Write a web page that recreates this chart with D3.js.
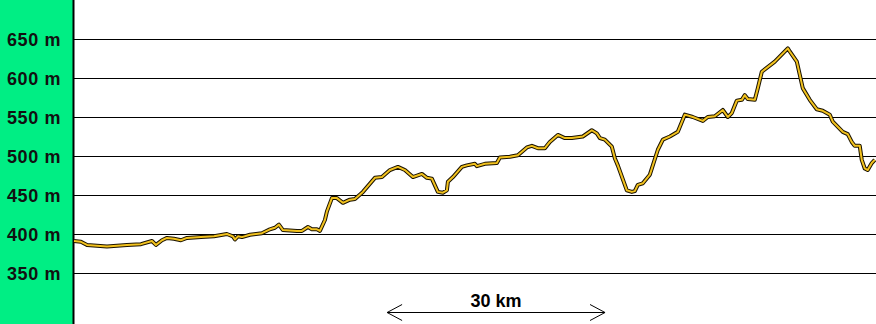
<!DOCTYPE html>
<html>
<head>
<meta charset="utf-8">
<script src="https://cdnjs.cloudflare.com/ajax/libs/d3/7.8.5/d3.min.js"></script>
<style>
  html, body { margin: 0; padding: 0; background: #fff; }
  svg { display: block; }
</style>
</head>
<body>
<div id="main"></div>
<script>
// distance along the route (km) and elevation (m)
var distKm = [0, 0.96, 1.79, 4.54, 5.92, 7.29, 9.22, 10.73, 11.28, 12.11, 12.8, 13.76, 14.72, 15.55, 17.48, 19.27,
  21.05, 21.88, 22.16, 22.57, 23.12, 24.22, 25.87, 26.97, 27.66, 28.21, 28.76, 30.69, 31.38, 32.2, 32.75, 33.44,
  33.85, 34.54, 34.82, 35.5, 36.19, 37.02, 37.98, 38.67, 39.77, 41.42, 42.39, 43.49, 44.59, 45.55, 46.65, 47.89,
  48.58, 49.26, 50.09, 50.78, 51.33, 51.47, 52.16, 53.39, 54.08, 55.18, 55.46, 56.56, 58.21, 58.62, 60.0, 61.1,
  62.34, 63.03, 63.85, 64.82, 65.5, 66.61, 67.57, 68.53, 70.04, 71.28, 71.97, 72.39, 73.07, 74.04, 74.45, 74.86,
  76.1, 76.79, 77.2, 77.61, 78.3, 79.27, 80.37, 81.06, 82.02, 83.12, 84.08, 85.18, 86.56, 87.24, 88.21, 89.31,
  90.0, 90.55, 91.24, 91.93, 92.34, 92.75, 93.72, 94.13, 94.68, 96.47, 98.26, 98.53, 99.5, 100.32, 101.28, 102.24,
  103.07, 104.03, 104.45, 105.82, 106.51, 107.06, 107.47, 108.16, 108.44, 108.85, 109.26, 109.82, 110.23];
var elevM = [391, 390, 386, 384, 385, 386, 387, 391, 386, 392, 395, 394, 392, 395, 396, 397,
  400, 397, 393, 397, 396, 399, 401, 406, 408, 412, 405, 404, 404, 409, 406, 406,
  404, 418, 429, 446, 446, 440, 444, 445, 454, 472, 473, 482, 486, 482, 473, 477,
  472, 471, 454, 453, 456, 467, 473, 486, 488, 490, 487, 490, 491, 498, 499, 501,
  511, 513, 510, 510, 518, 527, 523, 523, 525, 533, 529, 523, 521, 512, 497, 488,
  456, 454, 455, 463, 465, 476, 508, 521, 525, 531, 553, 550, 545, 550, 551, 559,
  550, 555, 571, 572, 578, 573, 572, 587, 608, 621, 638, 634, 621, 587, 572, 560,
  558, 553, 544, 531, 528, 518, 513, 513, 495, 484, 482, 491, 495];
var gridM = [650, 600, 550, 500, 450, 400, 350];
var scaleKm = 30, scaleStartKm = 43.1;

var W = 876, H = 324, panelW = 73;
var svg = d3.select("#main").append("svg").attr("width", W).attr("height", H);

var x = d3.scaleLinear().domain([0, 110.4]).range([panelW + 1, W]);
var y = d3.scaleLinear().domain([350, 650]).range([273, 39]);

// green label panel
svg.append("rect").attr("x", 0).attr("y", 0).attr("width", panelW).attr("height", H).attr("fill", "#00ee84");
svg.append("line").attr("x1", panelW + 0.5).attr("x2", panelW + 0.5).attr("y1", 0).attr("y2", H)
  .attr("stroke", "#000").attr("stroke-width", 2);

// horizontal grid lines
svg.append("g").selectAll("line").data(gridM).enter().append("line")
  .attr("x1", panelW + 1).attr("x2", W)
  .attr("y1", function(d) { return Math.round(y(d)) + 0.5; })
  .attr("y2", function(d) { return Math.round(y(d)) + 0.5; })
  .attr("stroke", "#000").attr("stroke-width", 1);

// elevation labels
svg.append("g").selectAll("text").data(gridM).enter().append("text")
  .attr("x", 7)
  .attr("y", function(d) { return y(d) + 7; })
  .style("font-family", "Arial, 'Liberation Sans', sans-serif")
  .style("font-weight", "bold")
  .style("font-size", "18px")
  .style("letter-spacing", "0.6px")
  .attr("fill", "#111")
  .text(function(d) { return d + " m"; });

// profile: black casing + yellow core
var pts = distKm.map(function(d, i) { return [d, elevM[i]]; });
var line = d3.line().x(function(d) { return x(d[0]); }).y(function(d) { return y(d[1]); });
svg.append("path").datum(pts).attr("d", line).attr("fill", "none")
  .attr("stroke", "#1a1200").attr("stroke-width", 4).attr("stroke-linejoin", "round");
svg.append("path").datum(pts).attr("d", line).attr("fill", "none")
  .attr("stroke", "#f2c21e").attr("stroke-width", 2).attr("stroke-linejoin", "round");

// 30 km scale arrow
var ax0 = x(scaleStartKm), ax1 = x(scaleStartKm + scaleKm), ay = 312.5;
var arrow = svg.append("g").attr("stroke", "#000").attr("stroke-width", 1).attr("fill", "none");
arrow.append("line").attr("x1", ax0).attr("x2", ax1).attr("y1", ay).attr("y2", ay);
arrow.append("path").attr("d", "M" + (ax0 + 15) + "," + (ay - 8) + "L" + ax0 + "," + ay + "L" + (ax0 + 15) + "," + (ay + 8));
arrow.append("path").attr("d", "M" + (ax1 - 15) + "," + (ay - 8) + "L" + ax1 + "," + ay + "L" + (ax1 - 15) + "," + (ay + 8));
svg.append("text")
  .attr("x", (ax0 + ax1) / 2).attr("y", ay - 6)
  .style("text-anchor", "middle")
  .style("font-family", "Arial, 'Liberation Sans', sans-serif")
  .style("font-weight", "bold")
  .style("font-size", "18px")
  .attr("fill", "#000")
  .text(scaleKm + " km");
</script>
</body>
</html>
